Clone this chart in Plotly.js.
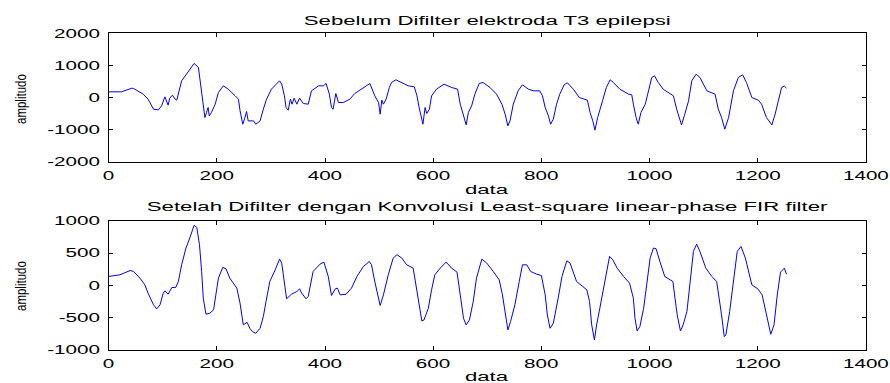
<!DOCTYPE html>
<html>
<head>
<meta charset="utf-8">
<script src="https://cdn.plot.ly/plotly-3.0.1.min.js"></script>
<style>
html,body{margin:0;padding:0;background:#fff;}
#chart{width:890px;height:383px;}
</style>
</head>
<body>
<div id="chart"></div>
<script>
// ---- Data ----
const topTitle = "Sebelum Difilter elektroda T3 epilepsi";
const bottomTitle = "Setelah Difilter dengan Konvolusi Least-square linear-phase FIR filter";
const xLabel = "data";
const yLabel = "amplitudo";

const xTicks = [0, 200, 400, 600, 800, 1000, 1200, 1400];
const topYTicks = [-2000, -1000, 0, 1000, 2000];
const bottomYTicks = [-1000, -500, 0, 500, 1000];

const rawX = [0,24,43,46,64,73,83,92,98,104,110,113,118,123,126,131,135,144,152,158,166,169,172,175,178,181,184,186,190,197,203,212,221,234,240,243,248,252,255,258,264,268,272,280,286,292,301,311,316,320,325,328,332,336,339,343,348,353,360,369,375,388,397,402,408,412,415,420,425,434,446,455,468,483,492,499,502,505,508,513,519,523,531,542,554,565,570,574,581,585,588,593,597,606,620,634,645,650,656,661,665,671,677,685,692,705,717,727,733,738,742,748,757,765,776,785,797,802,807,813,817,822,828,834,842,848,859,870,885,890,895,899,904,908,913,920,927,933,945,961,967,970,975,979,984,992,998,1004,1009,1016,1025,1038,1044,1050,1059,1065,1072,1078,1086,1093,1106,1121,1127,1133,1139,1146,1155,1164,1172,1179,1189,1201,1207,1216,1226,1232,1238,1244,1249,1253];
const rawY = [177,177,291,281,104,-52,-364,-385,-260,21,-239,-21,73,-52,-83,208,520,728,936,1061,936,520,156,-208,-624,-468,-312,-572,-468,-208,156,364,260,52,-52,-416,-832,-624,-437,-728,-728,-728,-832,-728,-364,-52,260,416,520,416,52,-312,-395,-52,-208,-21,-208,-21,-187,-208,208,364,364,437,104,-312,-364,125,-156,-156,-52,125,260,437,52,-156,-520,-83,-208,-52,312,468,551,468,364,333,52,-312,-832,-312,-499,-364,52,260,416,312,260,-208,-572,-853,-468,-260,104,437,468,312,104,-208,-520,-884,-728,-208,208,395,260,208,208,52,-312,-572,-832,-676,-208,104,395,458,260,0,-83,-468,-728,-1019,-624,-364,-104,312,551,468,260,104,83,-208,-624,-832,-468,-208,208,624,676,468,260,104,52,-364,-853,-520,-104,520,728,624,208,104,-364,-624,-988,-624,208,624,707,468,0,-83,-208,-624,-853,-520,-52,312,354,291];

const filtX = [0,21,40,46,58,67,73,83,89,95,101,104,110,117,124,129,135,143,150,158,163,168,172,175,180,187,194,199,203,211,217,224,237,243,249,256,261,266,272,280,286,291,298,308,316,320,324,329,338,348,353,357,365,369,378,391,398,406,412,419,423,428,439,449,459,471,482,486,492,499,502,508,517,526,533,542,551,563,569,574,579,583,591,597,603,613,624,634,644,650,656,661,667,674,680,690,699,711,722,728,733,738,743,751,759,765,773,780,791,800,807,811,816,822,831,838,847,853,865,884,889,893,898,902,908,918,926,932,940,952,963,970,973,977,982,989,995,1001,1007,1012,1019,1028,1038,1043,1047,1051,1057,1062,1069,1075,1081,1087,1093,1104,1115,1124,1129,1133,1138,1141,1148,1155,1162,1169,1177,1189,1200,1208,1217,1224,1230,1236,1242,1249,1253];
const filtY = [140,166,233,218,114,10,-119,-300,-363,-300,-119,-83,-135,-31,-31,62,321,580,736,932,901,632,218,-197,-445,-430,-378,-93,114,280,259,114,-41,-275,-611,-570,-663,-715,-741,-663,-482,-249,62,243,409,347,62,-207,-135,-93,-52,-119,-207,-171,218,332,363,140,-155,-52,-41,-145,-135,-41,140,295,373,321,62,-197,-311,-145,166,425,477,425,321,269,-41,-300,-549,-534,-352,-67,166,269,363,269,207,-145,-508,-611,-534,-249,114,409,347,218,88,-145,-404,-689,-559,-300,62,321,321,218,176,155,-145,-456,-663,-585,-197,140,383,347,62,-67,-249,-611,-844,-611,-352,62,451,399,269,140,36,-197,-508,-705,-637,-352,62,425,580,570,373,140,88,62,-197,-456,-705,-611,-404,62,528,642,528,269,140,62,-197,-456,-793,-767,-404,62,528,606,425,10,-52,-145,-482,-756,-611,-145,207,269,176];

// ---- Layout constants ----
const FONT = "Liberation Sans, Arial, Helvetica, sans-serif";
const W = 890, H = 383;
const px2x = p => p / W;
const py2y = p => 1 - p / H;

const axisCommon = {
  showline: true, linecolor: "#000", linewidth: 1, mirror: "allticks",
  ticks: "inside", ticklen: 4, tickcolor: "#000", tickwidth: 1,
  showgrid: false, zeroline: false,
  tickfont: {family: FONT, size: 12, color: "#000"},
  fixedrange: true
};

const traces = [
  {x: rawX, y: rawY, xaxis: "x", yaxis: "y", mode: "lines",
   line: {color: "#0000ff", width: 1}, hoverinfo: "skip"},
  {x: filtX, y: filtY, xaxis: "x2", yaxis: "y2", mode: "lines",
   line: {color: "#0000ff", width: 1}, hoverinfo: "skip"}
];

const xDomain = [px2x(108.6), px2x(866)];

const layout = {
  width: W, height: H,
  margin: {l: 0, r: 0, t: 0, b: 0},
  paper_bgcolor: "#fff", plot_bgcolor: "#fff",
  showlegend: false,
  xaxis: Object.assign({}, axisCommon, {domain: xDomain, range: [0, 1400],
    tickvals: xTicks, ticktext: xTicks.map(String), anchor: "y", ticklabelstandoff: 3}),
  yaxis: Object.assign({}, axisCommon, {domain: [py2y(161.7), py2y(33.3)], range: [-2000, 2000],
    tickvals: topYTicks, ticktext: topYTicks.map(String), anchor: "x", ticklabelstandoff: 5}),
  xaxis2: Object.assign({}, axisCommon, {domain: xDomain, range: [0, 1400],
    tickvals: xTicks, ticktext: xTicks.map(String), anchor: "y2", ticklabelstandoff: 3}),
  yaxis2: Object.assign({}, axisCommon, {domain: [py2y(350), py2y(221)], range: [-1000, 1000],
    tickvals: bottomYTicks, ticktext: bottomYTicks.map(String), anchor: "x2", ticklabelstandoff: 5}),
  annotations: [
    {text: topTitle, xref: "paper", yref: "paper", x: px2x(487.3), y: py2y(21),
     xanchor: "center", yanchor: "middle", showarrow: false, font: {family: FONT, size: 12, color: "#000"}},
    {text: bottomTitle, xref: "paper", yref: "paper", x: px2x(487.3), y: py2y(207),
     xanchor: "center", yanchor: "middle", showarrow: false, font: {family: FONT, size: 12, color: "#000"}},
    {text: xLabel, xref: "paper", yref: "paper", x: px2x(487.3), y: py2y(190),
     xanchor: "center", yanchor: "middle", showarrow: false, font: {family: FONT, size: 12, color: "#000"}},
    {text: xLabel, xref: "paper", yref: "paper", x: px2x(487.3), y: py2y(376.5),
     xanchor: "center", yanchor: "middle", showarrow: false, font: {family: FONT, size: 12, color: "#000"}},
    {text: yLabel, xref: "paper", yref: "paper", x: px2x(21), y: py2y(99), textangle: -90,
     xanchor: "center", yanchor: "middle", showarrow: false, font: {family: FONT, size: 11.5, color: "#000"}},
    {text: yLabel, xref: "paper", yref: "paper", x: px2x(21), y: py2y(286), textangle: -90,
     xanchor: "center", yanchor: "middle", showarrow: false, font: {family: FONT, size: 11.5, color: "#000"}}
  ]
};

function hasRotation(el) {
  let n = el;
  while (n && n.getAttribute) {
    const tr = n.getAttribute("transform") || "";
    const m = tr.match(/rotate\(\s*(-?[\d.eE+-]+)/);
    if (m && Math.abs(parseFloat(m[1])) > 1e-6) return true;
    if (n.classList && n.classList.contains("main-svg")) break;
    n = n.parentNode;
  }
  return false;
}

// The reference image text is horizontally stretched; mimic that.
function stretchTexts(gd) {
  gd.querySelectorAll(".main-svg text").forEach(t => {
    if (t.getAttribute("data-st")) return;
    const bb = t.getBBox();
    if (!bb.width) return;
    const tr = t.getAttribute("transform") || "";
    let add;
    if (hasRotation(t)) {
      const cy = bb.y + bb.height / 2;
      add = `translate(0,${cy}) scale(1,1.3) translate(0,${-cy})`;
    } else {
      const anchor = t.getAttribute("text-anchor") || "start";
      const cx = anchor === "end" ? bb.x + bb.width : (anchor === "start" ? bb.x : bb.x + bb.width / 2);
      const inAnn = !!t.closest(".annotation");
      const sx = inAnn ? 1.85 : 1.72;
      add = `translate(${cx},0) scale(${sx},1) translate(${-cx},0)`;
    }
    t.setAttribute("transform", (tr + " " + add).trim());
    t.setAttribute("data-st", "1");
  });
}

Plotly.newPlot("chart", traces, layout, {displayModeBar: false, staticPlot: true})
  .then(gd => stretchTexts(gd));
</script>
</body>
</html>
